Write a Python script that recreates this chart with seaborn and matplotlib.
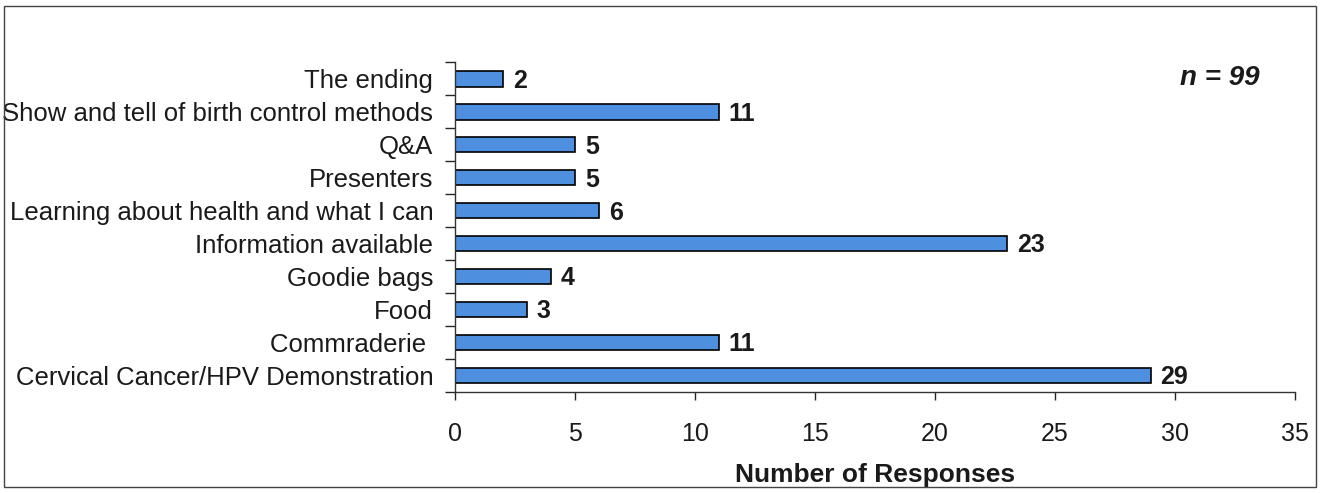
import matplotlib
matplotlib.use("Agg")
import matplotlib.pyplot as plt
import seaborn as sns
import pandas as pd
from matplotlib.patches import Rectangle

categories = ["The ending", "Show and tell of birth control methods", "Q&A", "Presenters",
              "Learning about health and what I can", "Information available", "Goodie bags",
              "Food", "Commraderie ", "Cervical Cancer/HPV Demonstration"]
responses = [2, 11, 5, 5, 6, 23, 4, 3, 11, 29]
x_ticks = [0, 5, 10, 15, 20, 25, 30, 35]

sns.set_style("white")
plt.rcParams['font.family'] = ['Liberation Sans', 'DejaVu Sans']

df = pd.DataFrame({"category": categories, "responses": responses})

fig = plt.figure(figsize=(13.2, 4.93), dpi=100)
ax = fig.add_axes([0.345, 0.205, 0.636, 0.669])

sns.barplot(data=df, x="responses", y="category", orient="h", color="#4F8FE0",
            saturation=1, width=0.48, edgecolor="black", linewidth=1.2, ax=ax)

for i, v in enumerate(responses):
    ax.text(v + 0.4, i + 0.06, str(v), va="center", ha="left",
            fontsize=18, fontweight="bold", color="#1a1a1a")

ax.set_xlim(0, 35)
ax.set_ylim(len(categories) - 0.5, -0.5)
ax.set_xticks(x_ticks)
ax.set_xticklabels([str(t) for t in x_ticks], fontsize=18, color="#1a1a1a")
ax.tick_params(axis="x", direction="out", length=6, width=1, pad=16, bottom=True)

# y ticks sit between the categories
ax.set_yticks(range(len(categories)))
ax.set_yticklabels(categories, fontsize=18.5, color="#1a1a1a")
ax.tick_params(axis="y", length=0, pad=16)
ax.set_yticks([i - 0.5 for i in range(len(categories) + 1)], minor=True)
ax.tick_params(axis="y", which="minor", direction="out", length=7, width=1, left=True)

ax.set_xlabel("Number of Responses", fontsize=19, fontweight="bold", labelpad=12, color="#1a1a1a")
ax.set_ylabel("")

for s in ["top", "right"]:
    ax.spines[s].set_visible(False)
for s in ["left", "bottom"]:
    ax.spines[s].set_color("#333333")
    ax.spines[s].set_linewidth(1)

ax.text(0.958, 0.953, "n = 99", transform=ax.transAxes, ha="right", va="center",
        fontsize=20, fontweight="bold", fontstyle="italic", color="#1a1a1a")

fig.patches.append(Rectangle((0.003, 0.012), 0.994, 0.975, transform=fig.transFigure,
                             fill=False, edgecolor="#444444", linewidth=1))

fig.savefig("out.png", dpi=100)
